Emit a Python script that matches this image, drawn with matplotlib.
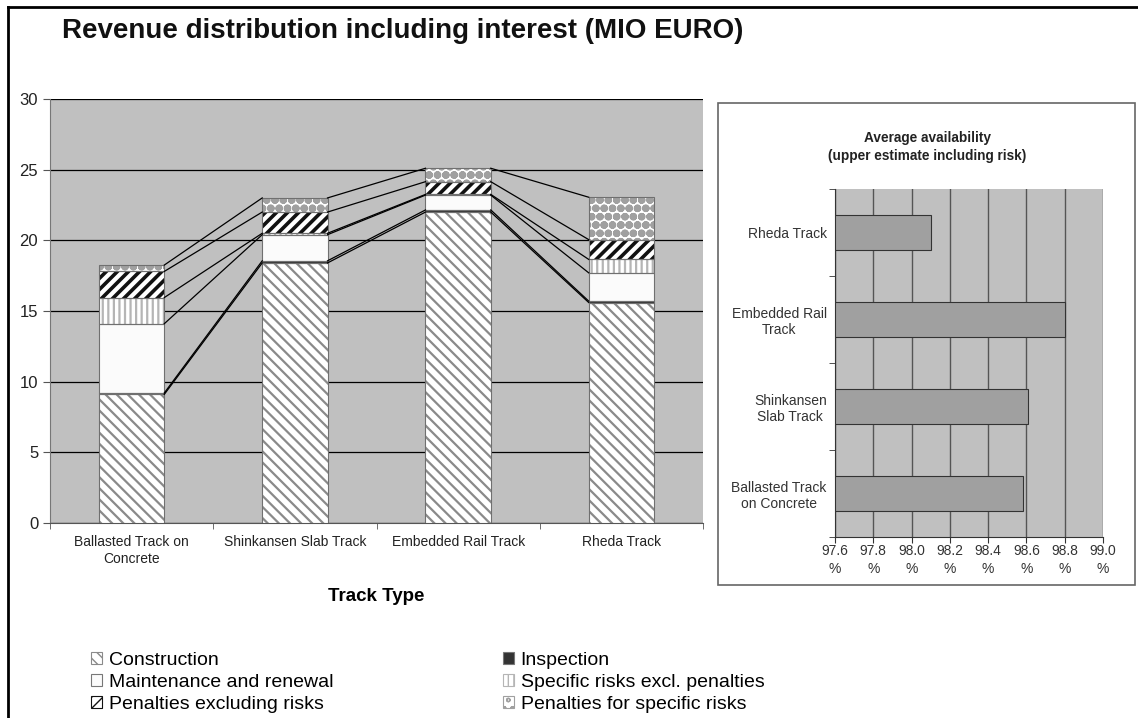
import numpy as np
import matplotlib.pyplot as plt
from matplotlib.patches import Patch
from matplotlib.lines import Line2D

plt.rcParams['font.family'] = ['Liberation Sans', 'DejaVu Sans']

# data
categories = ["Ballasted Track on\nConcrete", "Shinkansen Slab Track",
              "Embedded Rail Track", "Rheda Track"]
construction = [9.1, 18.4, 22.0, 15.6]
inspection = [0.1, 0.15, 0.15, 0.1]
maintenance = [4.9, 1.85, 1.05, 2.0]
specific_risks = [1.85, 0.1, 0.05, 0.95]
penalties = [1.85, 1.5, 0.9, 1.4]
penalties_specific = [0.45, 1.0, 0.95, 3.0]

avail_names = ["Ballasted Track\non Concrete", "Shinkansen\nSlab Track",
               "Embedded Rail\nTrack", "Rheda Track"]
avail_values = [98.58, 98.61, 98.8, 98.1]
avail_ticks = [97.6, 97.8, 98.0, 98.2, 98.4, 98.6, 98.8, 99.0]

series = [
    ("Construction", construction, "white", "#8a8a8a", "\\\\\\", 1.6),
    ("Inspection", inspection, "#333333", "#333333", None, 1.0),
    ("Maintenance and renewal", maintenance, "#fbfbfb", "#fbfbfb", None, 1.0),
    ("Specific risks excl. penalties", specific_risks, "white", "#b5b5b5", "|||", 1.6),
    ("Penalties excluding risks", penalties, "white", "#111111", "///", 2.6),
    ("Penalties for specific risks", penalties_specific, "white", "#a0a0a0", "oo", 3.0),
]

fig = plt.figure(figsize=(11.38, 7.18), dpi=100)
W, H = 1138, 718

# figure frame (left and top)
fig.add_artist(Line2D([8 / W, 8 / W], [0, 1 - 7 / H], color="black", lw=2))
fig.add_artist(Line2D([8 / W, 1], [1 - 7 / H, 1 - 7 / H], color="black", lw=2))

fig.text(62 / W, 1 - 31 / H, "Revenue distribution including interest (MIO EURO)",
         fontsize=20, fontweight="bold", va="center", ha="left", color="#111111")

# ---- left stacked bar chart
ax = fig.add_axes([50 / W, 1 - 523 / H, 653 / W, 424 / H])
ax.set_facecolor("#c0c0c0")
x = np.arange(len(categories))
bw = 0.4
bottom = np.zeros(len(categories))
handles = {}
levels = []
for name, vals, fc, hc, hatch, hlw in series:
    vals = np.array(vals)
    b = ax.bar(x, vals, bw, bottom=bottom, color=fc, edgecolor=hc, hatch=hatch,
               linewidth=0, zorder=3)
    for p in b:
        if hasattr(p, "set_hatch_linewidth"):
            p.set_hatch_linewidth(hlw)
    ax.bar(x, vals, bw, bottom=bottom, fill=False, edgecolor="#707070",
           linewidth=0.8, zorder=4)
    h = Patch(facecolor=fc, edgecolor=hc if hatch else "#777777", hatch=hatch,
              linewidth=0.8)
    if hasattr(h, "set_hatch_linewidth"):
        h.set_hatch_linewidth(hlw)
    handles[name] = h
    bottom = bottom + vals
    levels.append(bottom.copy())

# series lines between bars
for lev in levels:
    for i in range(len(categories) - 1):
        ax.plot([x[i] + bw / 2, x[i + 1] - bw / 2], [lev[i], lev[i + 1]],
                color="black", lw=0.9, zorder=5)

ax.set_xlim(-0.5, len(categories) - 0.5)
ax.set_ylim(0, 30)
ax.set_yticks(range(0, 31, 5))
ax.yaxis.grid(True, color="black", lw=0.9, zorder=1)
ax.set_axisbelow(True)
ax.set_xticks(x)
ax.set_xticklabels(categories, fontsize=10, color="#222222")
ax.set_xticks(np.arange(-0.5, len(categories), 1), minor=True)
ax.tick_params(axis="x", which="major", length=0, pad=9)
ax.tick_params(axis="x", which="minor", length=4, color="#555555")
ax.tick_params(axis="y", labelsize=12, length=5, color="#555555", labelcolor="#222222")
for s in ["top", "right"]:
    ax.spines[s].set_visible(False)
ax.spines["left"].set_color("#777777")
ax.spines["bottom"].set_color("#555555")
ax.set_xlabel("Track Type", fontsize=13.5, fontweight="bold", labelpad=16)

# legends
col1 = ["Construction", "Maintenance and renewal", "Penalties excluding risks"]
col2 = ["Inspection", "Specific risks excl. penalties", "Penalties for specific risks"]
for col, xpos in [(col1, 91 / W), (col2, 503 / W)]:
    fig.legend([handles[n] for n in col], col, loc="upper left",
               bbox_to_anchor=(xpos, 1 - 652 / H), frameon=False, fontsize=14,
               handlelength=0.55, handleheight=0.55, handletextpad=0.36,
               labelspacing=0.25, borderpad=0, borderaxespad=0)

# ---- right availability box
box = plt.Rectangle((718 / W, 1 - 585 / H), 417 / W, 482 / H, transform=fig.transFigure,
                    facecolor="white", edgecolor="#666666", lw=1.2, zorder=0)
fig.add_artist(box)

ax2 = fig.add_axes([835 / W, 1 - 537 / H, 268 / W, 348 / H])
ax2.set_facecolor("#c0c0c0")
y = np.arange(len(avail_names))
ax2.barh(y, np.array(avail_values) - 97.6, 0.41, left=97.6, color="#a0a0a0",
         edgecolor="#333333", linewidth=0.8, zorder=3)
ax2.set_xlim(97.6, 99.0)
ax2.set_ylim(-0.5, len(avail_names) - 0.5)
ax2.set_xticks(avail_ticks)
ax2.set_xticklabels([f"{t:.1f}\n%" for t in avail_ticks], fontsize=10, color="#333333",
                    linespacing=1.35)
ax2.xaxis.grid(True, color="#555555", lw=1.0, zorder=1)
ax2.set_axisbelow(True)
ax2.set_yticks(y)
ax2.set_yticklabels(avail_names, fontsize=10, color="#333333", multialignment="center")
ax2.set_yticks(np.arange(-0.5, len(avail_names), 1), minor=True)
ax2.tick_params(axis="y", which="major", length=0, pad=6)
ax2.tick_params(axis="y", which="minor", length=4, color="#333333")
ax2.tick_params(axis="x", length=4, color="#333333", pad=1)
for s in ["top", "right"]:
    ax2.spines[s].set_visible(False)
ax2.spines["left"].set_color("#333333")
ax2.spines["bottom"].set_color("#333333")
fig.text(927 / W, 1 - 147 / H, "Average availability\n(upper estimate including risk)",
         fontsize=9.8, fontweight="bold", ha="center", va="center", linespacing=1.45,
         color="#222222")

fig.savefig("out.png", dpi=100)
